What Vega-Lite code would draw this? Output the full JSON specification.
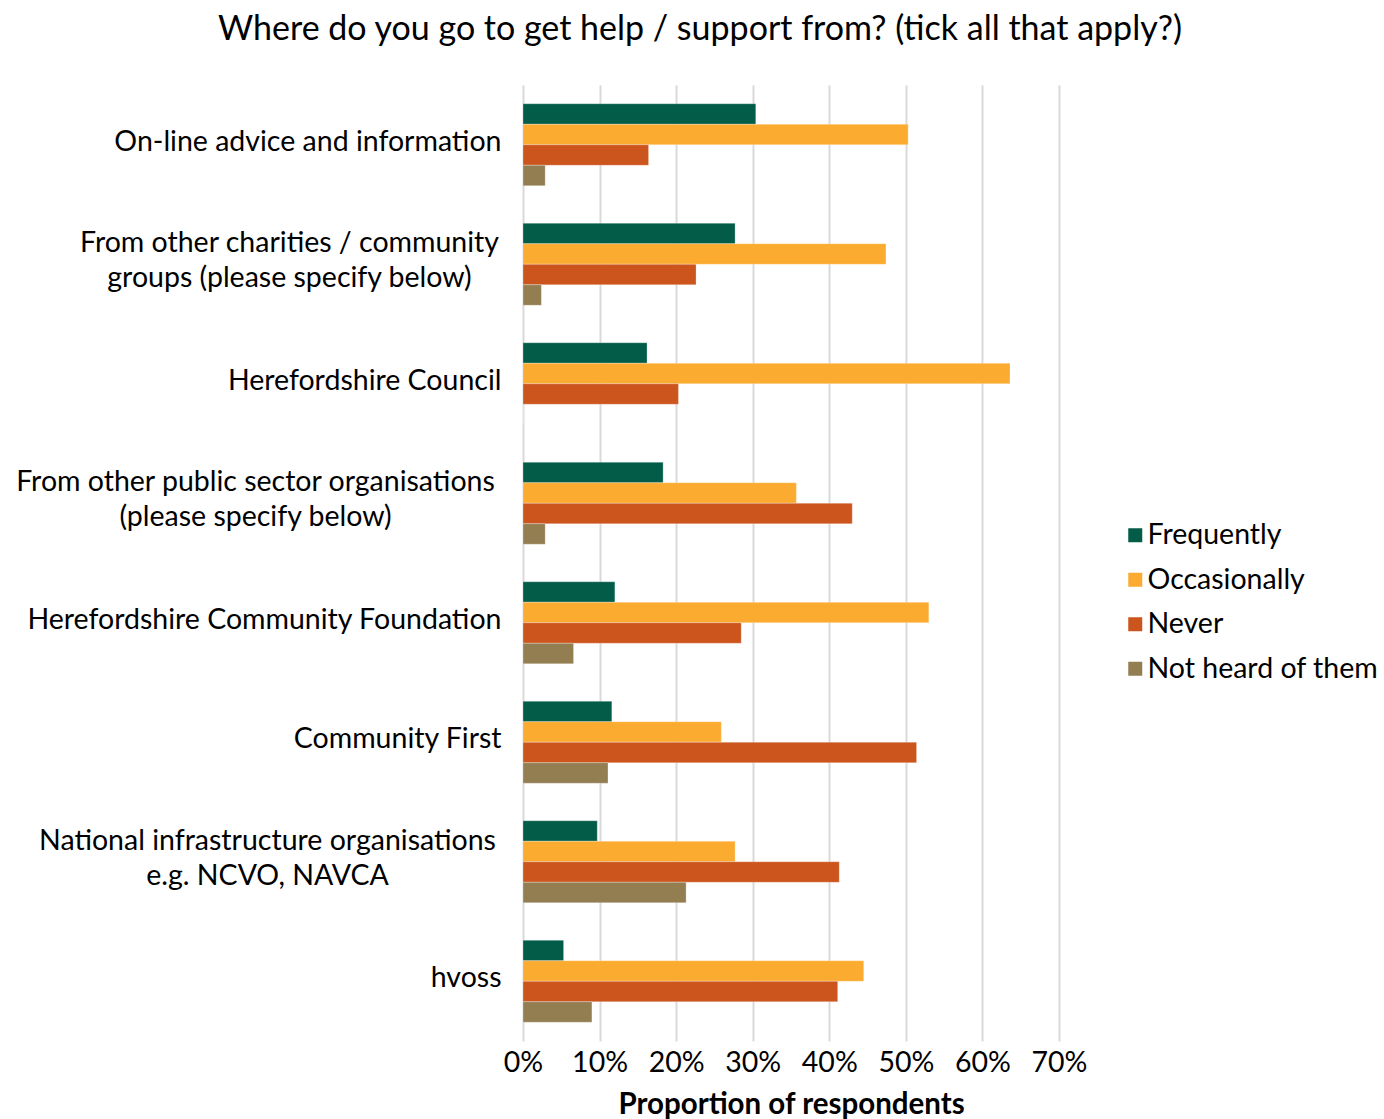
{
  "$schema": "https://vega.github.io/schema/vega-lite/v6.json",
  "autosize": {"type": "none"},
  "width": 536,
  "height": 956,
  "padding": {"left": 523, "top": 85, "right": 325, "bottom": 78},
  "background": "white",
  "title": {
    "text": "Where do you go to get help / support from? (tick all that apply?)",
    "font": "Lato",
    "fontSize": 34,
    "fontWeight": "normal",
    "color": "#000000",
    "anchor": "middle",
    "baseline": "alphabetic",
    "offset": 11,
    "dx": -91
  },
  "config": {
    "view": {"stroke": null},
    "font": "Lato"
  },
  "data": {
    "values": [
      {"source": "On-line advice and information", "response": "Frequently", "share": 0.304},
      {"source": "On-line advice and information", "response": "Occasionally", "share": 0.503},
      {"source": "On-line advice and information", "response": "Never", "share": 0.164},
      {"source": "On-line advice and information", "response": "Not heard of them", "share": 0.029},
      {"source": "From other charities / community|groups (please specify below)", "response": "Frequently", "share": 0.277},
      {"source": "From other charities / community|groups (please specify below)", "response": "Occasionally", "share": 0.474},
      {"source": "From other charities / community|groups (please specify below)", "response": "Never", "share": 0.226},
      {"source": "From other charities / community|groups (please specify below)", "response": "Not heard of them", "share": 0.024},
      {"source": "Herefordshire Council", "response": "Frequently", "share": 0.162},
      {"source": "Herefordshire Council", "response": "Occasionally", "share": 0.636},
      {"source": "Herefordshire Council", "response": "Never", "share": 0.203},
      {"source": "Herefordshire Council", "response": "Not heard of them", "share": 0.0},
      {"source": "From other public sector organisations|(please specify below)", "response": "Frequently", "share": 0.183},
      {"source": "From other public sector organisations|(please specify below)", "response": "Occasionally", "share": 0.357},
      {"source": "From other public sector organisations|(please specify below)", "response": "Never", "share": 0.430},
      {"source": "From other public sector organisations|(please specify below)", "response": "Not heard of them", "share": 0.029},
      {"source": "Herefordshire Community Foundation", "response": "Frequently", "share": 0.120},
      {"source": "Herefordshire Community Foundation", "response": "Occasionally", "share": 0.530},
      {"source": "Herefordshire Community Foundation", "response": "Never", "share": 0.285},
      {"source": "Herefordshire Community Foundation", "response": "Not heard of them", "share": 0.066},
      {"source": "Community First", "response": "Frequently", "share": 0.116},
      {"source": "Community First", "response": "Occasionally", "share": 0.259},
      {"source": "Community First", "response": "Never", "share": 0.514},
      {"source": "Community First", "response": "Not heard of them", "share": 0.111},
      {"source": "National infrastructure organisations|e.g. NCVO, NAVCA", "response": "Frequently", "share": 0.097},
      {"source": "National infrastructure organisations|e.g. NCVO, NAVCA", "response": "Occasionally", "share": 0.277},
      {"source": "National infrastructure organisations|e.g. NCVO, NAVCA", "response": "Never", "share": 0.413},
      {"source": "National infrastructure organisations|e.g. NCVO, NAVCA", "response": "Not heard of them", "share": 0.213},
      {"source": "hvoss", "response": "Frequently", "share": 0.053},
      {"source": "hvoss", "response": "Occasionally", "share": 0.445},
      {"source": "hvoss", "response": "Never", "share": 0.411},
      {"source": "hvoss", "response": "Not heard of them", "share": 0.090}
    ]
  },
  "mark": {"type": "bar", "stroke": "white", "strokeOpacity": 0.35, "strokeWidth": 0.8},
  "encoding": {
    "y": {
      "field": "source",
      "type": "nominal",
      "sort": null,
      "scale": {"paddingInner": 0.314, "paddingOuter": 0.157},
      "axis": {
        "title": null,
        "domain": false,
        "ticks": false,
        "tickSize": 0,
        "labelExpr": "split(datum.value, '|')",
        "labelFont": "Lato",
        "labelFontSize": 28.5,
        "labelColor": "#000000",
        "labelLineHeight": 35,
        "labelLimit": 0,
        "labelAlign": {
          "condition": {"test": "indexof(datum.value, '|') >= 0", "value": "center"},
          "value": "right"
        },
        "labelOffset": {
          "condition": {"test": "indexof(datum.value, '|') >= 0", "value": -21},
          "value": -3
        },
        "labelPadding": {
          "condition": [
            {"test": "indexof(datum.value, 'charities') >= 0", "value": 234},
            {"test": "indexof(datum.value, 'public sector') >= 0", "value": 268},
            {"test": "indexof(datum.value, 'National') >= 0", "value": 256}
          ],
          "value": 22
        }
      }
    },
    "yOffset": {
      "field": "response",
      "type": "nominal",
      "sort": ["Frequently", "Occasionally", "Never", "Not heard of them"],
      "scale": {"paddingInner": 0, "paddingOuter": 0}
    },
    "x": {
      "field": "share",
      "type": "quantitative",
      "scale": {"domain": [0, 0.7], "nice": false},
      "axis": {
        "format": ".0%",
        "values": [0, 0.1, 0.2, 0.3, 0.4, 0.5, 0.6, 0.7],
        "title": "Proportion of respondents",
        "titleFont": "Lato",
        "titleFontSize": 29.5,
        "titleFontWeight": "bold",
        "titleColor": "#000000",
        "titlePadding": 14,
        "domain": false,
        "ticks": false,
        "tickSize": 0,
        "labelPadding": 7,
        "labelFont": "Lato",
        "labelFontSize": 28.5,
        "labelColor": "#000000",
        "labelFlush": false,
        "grid": true,
        "gridColor": "#d9d9d9",
        "gridWidth": 2
      }
    },
    "color": {
      "field": "response",
      "type": "nominal",
      "sort": ["Frequently", "Occasionally", "Never", "Not heard of them"],
      "scale": {
        "domain": ["Frequently", "Occasionally", "Never", "Not heard of them"],
        "range": ["#035c48", "#fbab2f", "#cc541d", "#937e52"]
      },
      "legend": {
        "title": null,
        "orient": "none",
        "legendX": 598,
        "legendY": 436,
        "symbolType": "square",
        "symbolSize": 196,
        "symbolStrokeWidth": 0,
        "symbolOpacity": 1,
        "labelFont": "Lato",
        "labelFontSize": 28.5,
        "labelColor": "#000000",
        "labelOffset": -2,
        "rowPadding": 15.5,
        "labelLimit": 0
      }
    }
  }
}
